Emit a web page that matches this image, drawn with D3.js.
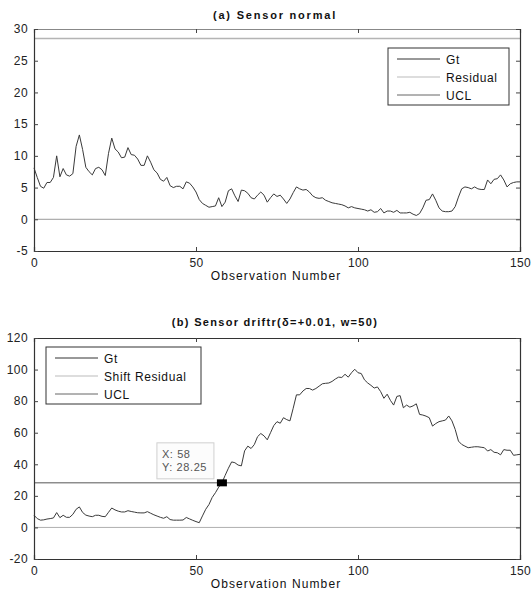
<!DOCTYPE html>
<html>
<head>
<meta charset="utf-8">
<script src="https://cdn.jsdelivr.net/npm/d3@7"></script>
<style>
html,body{margin:0;padding:0;background:#fff;}
svg{display:block;font-family:"Liberation Sans",Arial,sans-serif;}
</style>
</head>
<body>
<svg id="chart" width="531" height="593"></svg>
<script>
// ---------- data ----------
const gtNormal = [8.1,6.6,5.2,4.9,5.8,5.8,6.6,10.0,6.7,8.0,7.0,6.8,7.2,11.5,13.3,11.0,8.2,7.5,7.0,8.0,
8.2,7.8,6.9,10.4,12.8,11.1,10.6,9.7,9.8,11.3,10.2,10.1,9.5,8.5,8.5,10.0,9.0,7.8,7.3,6.3,
6.0,6.6,5.3,5.0,5.2,5.2,4.8,5.9,5.7,5.1,4.3,3.1,2.5,2.2,1.9,2.0,2.1,3.4,2.0,2.7,
4.5,4.8,3.7,2.8,4.6,4.5,4.1,3.4,3.2,3.8,4.3,3.8,2.7,3.4,4.0,3.6,3.8,3.2,2.5,3.2,
4.2,5.1,4.8,4.6,4.7,4.3,3.7,3.4,3.3,3.4,3.0,2.8,2.6,2.5,2.4,2.3,2.1,1.8,2.0,1.8,
1.7,1.6,1.5,1.3,1.5,1.1,1.2,1.7,1.0,1.3,1.3,1.1,1.4,1.0,1.0,1.0,1.1,0.8,0.6,0.9,
1.8,3.0,3.1,4.0,3.0,1.8,1.3,1.2,1.2,1.3,2.0,3.5,4.8,5.1,5.0,4.8,5.1,4.8,4.7,4.7,
6.2,5.6,6.3,6.4,7.0,6.2,5.1,5.6,5.8,5.9,5.9];
const uclNormal = 28.5;
const residualNormal = 0;

const gtDrift = [7.7,5.6,4.6,4.8,5.3,5.6,6.0,9.4,6.2,7.7,6.4,6.4,8.3,11.5,13.0,9.5,7.8,7.2,6.8,7.7,
7.7,7.0,6.8,9.6,12.3,11.1,10.3,9.8,9.8,10.6,10.1,9.7,9.3,9.2,9.2,10.0,9.0,8.0,7.2,6.4,
5.8,6.8,5.0,4.6,4.6,4.6,4.7,6.3,5.4,4.5,3.7,3.0,7.3,11.5,14.5,19.0,22.0,25.5,28.25,33.0,
37.5,41.5,41.0,39.5,39.0,48.5,51.5,50.0,52.5,57.5,59.5,58.0,55.5,60.0,64.5,67.0,66.0,69.5,68.3,67.5,
75.5,84.0,84.0,86.4,88.0,88.0,87.0,88.0,89.5,91.0,91.3,91.5,92.5,94.0,95.2,95.0,97.0,95.2,98.0,100.2,
98.0,97.5,93.5,91.5,90.0,88.3,89.0,86.0,81.8,84.4,80.5,77.5,83.0,83.5,75.8,77.5,76.2,77.0,78.3,71.6,
71.2,70.5,69.5,64.2,65.8,67.0,67.5,68.0,70.6,67.5,62.1,54.7,52.6,51.5,50.5,50.8,51.1,51.1,50.8,50.5,
48.4,49.3,47.6,47.3,46.0,49.3,48.9,48.9,45.7,46.0,46.3];
const uclDrift = 28.25;
const residualDrift = 0;

const xTicks = [0,50,100,150];
const yTicksA = [-5,0,5,10,15,20,25,30];
const yTicksB = [-20,0,20,40,60,80,100,120];
const legendA = ["Gt","Residual","UCL"];
const legendB = ["Gt","Shift Residual","UCL"];
const tipPoint = {x:58, y:28.25};

// ---------- drawing ----------
const svg = d3.select("#chart");
const X0 = 34, X1 = 520;

function panel(opt){
  const g = svg.append("g");
  const x = d3.scaleLinear().domain([0,150]).range([X0,X1]);
  const y = d3.scaleLinear().domain(opt.yDomain).range([opt.bottom, opt.top]);

  // horizontal reference lines
  g.append("line").attr("x1",X0).attr("x2",X1)
    .attr("y1",y(opt.ucl)).attr("y2",y(opt.ucl))
    .attr("stroke",opt.uclColor).attr("stroke-width",opt.uclWidth);
  g.append("line").attr("x1",X0).attr("x2",X1)
    .attr("y1",y(opt.res)).attr("y2",y(opt.res))
    .attr("stroke",opt.resColor).attr("stroke-width",1);

  // data line
  const line = d3.line().x((d,i)=>x(i)).y(d=>y(d));
  g.append("path").datum(opt.data).attr("d",line)
    .attr("fill","none").attr("stroke","#3a3a3a").attr("stroke-width",1);

  // axes
  const fmt = d => String(d);
  const axB = g.append("g").attr("transform",`translate(0,${opt.bottom})`)
    .call(d3.axisBottom(x).tickValues(xTicks).tickFormat(fmt).tickSize(-4).tickPadding(7));
  const axT = g.append("g").attr("transform",`translate(0,${opt.top})`)
    .call(d3.axisTop(x).tickValues(xTicks).tickFormat("").tickSize(-4));
  const axL = g.append("g").attr("transform",`translate(${X0},0)`)
    .call(d3.axisLeft(y).tickValues(opt.yTicks).tickFormat(fmt).tickSize(-4).tickPadding(6));
  const axR = g.append("g").attr("transform",`translate(${X1},0)`)
    .call(d3.axisRight(y).tickValues(opt.yTicks).tickFormat("").tickSize(-4));
  [axB,axT,axL,axR].forEach(a=>{
    a.select(".domain").attr("stroke","#333").attr("stroke-width",1.2);
    a.selectAll(".tick line").attr("stroke","#444");
    a.selectAll("text").attr("font-size","12px").attr("fill","#222")
      .attr("font-family","'Liberation Sans',Arial,sans-serif").style("letter-spacing","0.4px");
  });
  axT.select(".domain").attr("stroke",opt.topBorder);

  // title
  g.append("text").attr("x",opt.titleX).attr("y",opt.titleY).attr("text-anchor","middle")
    .attr("font-size","11px").attr("font-weight","bold").attr("fill","#111")
    .style("letter-spacing",opt.titleSpacing).text(opt.title);
  // x label
  g.append("text").attr("x",276).attr("y",opt.bottom+29).attr("text-anchor","middle")
    .attr("font-size","12px").attr("fill","#111").style("letter-spacing","1.1px")
    .text("Observation Number");

  // legend
  const L = opt.legend;
  const lg = g.append("g");
  lg.append("rect").attr("x",L.x).attr("y",L.y).attr("width",L.w).attr("height",L.h)
    .attr("fill","#fff").attr("stroke","#333").attr("stroke-width",1);
  const colors = ["#333","#bbb","#666"];
  L.labels.forEach((t,i)=>{
    const cy = L.y + 11 + i*18;
    lg.append("line").attr("x1",L.x+9).attr("x2",L.x+52).attr("y1",cy).attr("y2",cy)
      .attr("stroke",colors[i]).attr("stroke-width",1);
    lg.append("text").attr("x",L.x+58).attr("y",cy+4.5).attr("font-size","12px")
      .attr("fill","#111").style("letter-spacing","0.6px").text(t);
  });
  return {x,y,g};
}

panel({
  data: gtNormal, yDomain:[-5,30], top:29, bottom:251, yTicks:yTicksA,
  ucl: uclNormal, uclColor:"#b4b4b4", uclWidth:1.6,
  res: residualNormal, resColor:"#999",
  topBorder:"#888",
  title:"(a) Sensor normal", titleX:275, titleY:19, titleSpacing:"1.8px",
  legend:{x:388,y:48,w:121,h:57,labels:legendA}
});

const pb = panel({
  data: gtDrift, yDomain:[-20,120], top:338, bottom:559, yTicks:yTicksB,
  ucl: uclDrift, uclColor:"#555", uclWidth:1,
  res: residualDrift, resColor:"#b0b0b0",
  topBorder:"#333",
  title:"(b) Sensor driftr(δ=+0.01, w=50)", titleX:275, titleY:326, titleSpacing:"1.3px",
  legend:{x:46,y:347,w:155,h:57,labels:legendB}
});

// data tip
const tx = pb.x(tipPoint.x), ty = pb.y(tipPoint.y);
const tip = pb.g.append("g");
tip.append("rect").attr("x",tx-65).attr("y",ty-40).attr("width",57).attr("height",36)
  .attr("fill","#fcfcfc").attr("stroke","#d0d0d0").attr("stroke-width",1);
tip.append("text").attr("x",tx-60).attr("y",ty-25).attr("font-size","11px").attr("fill","#555")
  .style("letter-spacing","0.6px").text("X: " + tipPoint.x);
tip.append("text").attr("x",tx-60).attr("y",ty-12).attr("font-size","11px").attr("fill","#555")
  .style("letter-spacing","0.6px").text("Y: " + tipPoint.y.toFixed(2));
tip.append("rect").attr("x",tx-5).attr("y",ty-3.5).attr("width",10).attr("height",7).attr("fill","#000");
</script>
</body>
</html>
